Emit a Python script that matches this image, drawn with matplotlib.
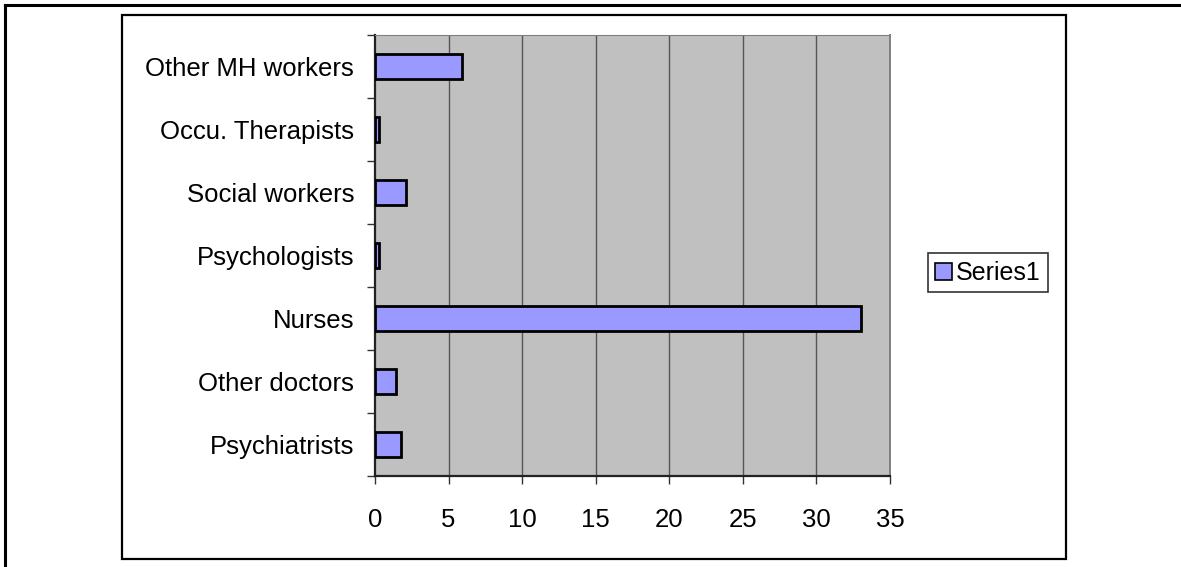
import matplotlib
matplotlib.use("Agg")
import matplotlib.pyplot as plt
from matplotlib.lines import Line2D
from matplotlib.patches import Rectangle, Patch
import numpy as np

plt.rcParams["font.family"] = ["Liberation Sans", "DejaVu Sans"]

categories = ["Psychiatrists", "Other doctors", "Nurses", "Psychologists",
              "Social workers", "Occu. Therapists", "Other MH workers"]
values = [1.8, 1.4, 33, 0.3, 2.1, 0.3, 5.9]
x_ticks = [0, 5, 10, 15, 20, 25, 30, 35]
series_name = "Series1"

W, H = 1181, 567
fig = plt.figure(figsize=(W / 100, H / 100), dpi=100)
fig.patch.set_facecolor("white")

def fx(px):
    return px / W

def fy(py):
    return 1 - py / H

# outer page border (top and left edges)
fig.add_artist(Line2D([fx(5), 1], [fy(5), fy(5)], color="black", lw=2.2,
                      transform=fig.transFigure))
fig.add_artist(Line2D([fx(5), fx(5)], [fy(5), 0], color="black", lw=2.2,
                      transform=fig.transFigure))
# chart area frame
fig.add_artist(Rectangle((fx(122), fy(559)), fx(1066) - fx(122), fy(15) - fy(559),
                         fill=False, edgecolor="black", lw=1.6,
                         transform=fig.transFigure))

ax = fig.add_axes([fx(375), fy(476), fx(890) - fx(375), fy(35) - fy(476)])
ax.set_facecolor("#C0C0C0")

y = np.arange(len(categories))
ax.barh(y, values, height=0.4, color="#9999FF", edgecolor="black", linewidth=2.0,
        zorder=3)

ax.set_xlim(0, 35)
ax.set_ylim(-0.5, len(categories) - 0.5)

ax.set_xticks(x_ticks)
ax.set_xticklabels([str(t) for t in x_ticks], fontsize=18.5)
ax.tick_params(axis="x", direction="out", length=6, width=1, pad=17, color="#333333")
for t in x_ticks[1:-1]:
    ax.axvline(t, color="#555555", lw=1, zorder=1)

ax.set_yticks(y)
ax.set_yticklabels(categories, fontsize=18.5)
ax.tick_params(axis="y", which="major", length=0, pad=15)
ax.set_yticks(np.arange(-0.5, len(categories)), minor=True)
ax.tick_params(axis="y", which="minor", direction="out", length=6, width=1,
               color="#333333")

ax.spines["left"].set_color("#222222")
ax.spines["left"].set_linewidth(1.6)
ax.spines["bottom"].set_color("#222222")
ax.spines["bottom"].set_linewidth(1.6)
ax.spines["top"].set_color("#808080")
ax.spines["right"].set_color("#808080")
ax.spines["right"].set_linewidth(1.4)

handle = Patch(facecolor="#9999FF", edgecolor="black", linewidth=1.2)
leg = fig.legend([handle], [series_name], loc="center left",
                 bbox_to_anchor=(fx(928), fy(273)), fontsize=18, frameon=True,
                 fancybox=False, edgecolor="black", handlelength=0.65,
                 handleheight=0.65, handletextpad=0.15, borderpad=0.3,
                 borderaxespad=0)
leg.get_frame().set_linewidth(1.2)

fig.savefig("out.png", dpi=100, facecolor="white")
